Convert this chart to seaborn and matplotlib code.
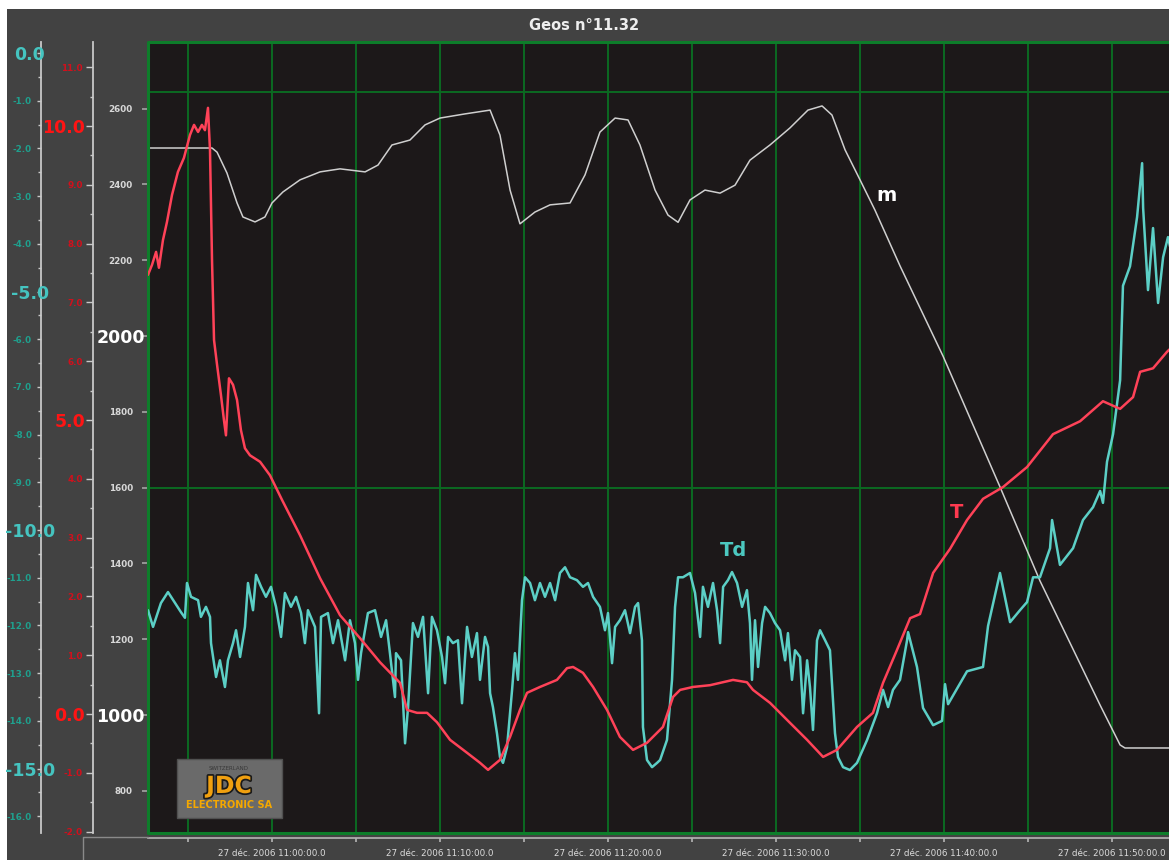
import pandas as pd
import matplotlib
matplotlib.use("Agg")
import matplotlib.pyplot as plt
import matplotlib.dates as mdates
import matplotlib.transforms as mtrans
import matplotlib.patheffects as pe
from matplotlib.patches import Rectangle
from matplotlib.lines import Line2D
from matplotlib.ticker import MultipleLocator, FuncFormatter
import seaborn as sns

# -------------------------------
# Data (minutes after 11:00, 27 Dec 2006)
# -------------------------------
alt_min = [-7.6, -3.57, -3.27, -2.68, -2.08, -1.73, -1.01, -0.42, 0.0, 0.65, 1.67, 2.86, 4.05,
           5.54, 6.31, 7.14, 8.21, 9.11, 10.0, 11.49, 12.98, 13.57, 14.17, 14.76, 15.65,
           16.55, 17.74, 18.63, 19.52, 20.42, 21.19, 21.90, 22.80, 23.57, 24.17, 24.88,
           25.77, 26.67, 27.56, 28.45, 29.64, 30.83, 31.90, 32.74, 33.33, 34.11, 35.0,
           35.89, 37.38, 39.94, 43.33, 45.71, 49.29, 50.48, 50.77, 53.6]
alt_m = [2496, 2496, 2485, 2430, 2351, 2314, 2301, 2314, 2351, 2380, 2412, 2433, 2441,
         2433, 2451, 2504, 2517, 2557, 2575, 2586, 2596, 2530, 2385, 2296, 2327,
         2346, 2351, 2425, 2538, 2575, 2570, 2504, 2385, 2319, 2300, 2359,
         2385, 2377, 2398, 2464, 2504, 2549, 2596, 2607, 2583, 2491, 2412,
         2332, 2185, 1947, 1602, 1354, 1026, 921, 913, 913]

temp_min = [-7.38, -7.14, -6.90, -6.73, -6.49, -6.25, -5.95, -5.60, -5.24, -4.88, -4.64, -4.40,
            -4.17, -3.99, -3.81, -3.69, -3.57, -3.45, -3.27, -3.04, -2.86, -2.74, -2.56, -2.32,
            -2.08, -1.85, -1.61, -1.31, -0.71, -0.12, 0.60, 1.67, 2.86, 4.05, 5.24, 6.43,
            7.62, 8.04, 8.63, 9.23, 9.82, 10.60, 11.61, 12.38, 12.86, 13.57, 14.17, 14.76,
            15.18, 15.95, 16.96, 17.56, 17.92, 18.51, 19.11, 19.94, 20.71, 21.49, 22.32,
            23.27, 23.87, 24.29, 25.06, 26.07, 27.44, 28.27, 28.63, 29.64, 30.83, 31.85,
            32.80, 33.63, 34.82, 35.77, 36.37, 37.20, 37.98, 38.57, 39.35, 40.36, 41.37,
            42.32, 43.51, 44.94, 46.49, 48.10, 49.46, 50.48, 51.25, 51.67, 52.44, 53.27, 53.6]
temp_c = [7.47, 7.64, 7.86, 7.59, 8.06, 8.37, 8.83, 9.22, 9.46, 9.85, 10.02, 9.90,
          10.02, 9.93, 10.31, 9.59, 7.72, 6.36, 5.94, 5.43, 5.00, 4.74, 5.71, 5.60,
          5.34, 4.83, 4.52, 4.40, 4.29, 4.06, 3.64, 3.04, 2.31, 1.68, 1.29, 0.88,
          0.53, 0.07, 0.02, 0.02, -0.14, -0.44, -0.66, -0.83, -0.95, -0.78, -0.39, 0.07,
          0.36, 0.46, 0.58, 0.78, 0.80, 0.70, 0.46, 0.07, -0.39, -0.61, -0.49,
          -0.22, 0.29, 0.41, 0.46, 0.49, 0.58, 0.54, 0.41, 0.19, -0.15, -0.44,
          -0.73, -0.61, -0.22, 0.02, 0.53, 1.09, 1.63, 1.70, 2.40, 2.81, 3.30,
          3.66, 3.86, 4.20, 4.76, 4.98, 5.32, 5.19, 5.39, 5.82, 5.88, 6.16, 6.25]

dew_min = [-7.38, -7.08, -6.61, -6.19, -5.77, -5.42, -5.18, -5.06, -4.82, -4.40, -4.23, -3.93,
           -3.69, -3.63, -3.51, -3.33, -3.10, -2.80, -2.62, -2.32, -2.14, -1.90, -1.61, -1.43,
           -1.13, -0.95, -0.65, -0.36, -0.06, 0.24, 0.54, 0.77, 1.13, 1.43, 1.73, 1.96,
           2.14, 2.56, 2.80, 2.92, 3.33, 3.63, 3.93, 4.35, 4.64, 4.94, 5.12, 5.30,
           5.71, 6.13, 6.49, 6.79, 7.02, 7.32, 7.38, 7.68, 7.92, 8.10, 8.39, 8.69,
           8.99, 9.29, 9.52, 9.82, 10.12, 10.30, 10.48, 10.77, 11.07, 11.31, 11.61, 11.90,
           12.20, 12.38, 12.68, 12.86, 12.98, 13.15, 13.39, 13.57, 13.75, 13.99, 14.29, 14.46,
           14.64, 14.88, 15.06, 15.36, 15.65, 15.95, 16.25, 16.55, 16.85, 17.14, 17.44, 17.74,
           18.15, 18.51, 18.81, 19.11, 19.52, 19.82, 20.0, 20.24, 20.42, 20.71, 21.01, 21.31,
           21.61, 21.79, 22.02, 22.08, 22.32, 22.62, 22.92, 23.10, 23.51, 23.81, 23.99, 24.17,
           24.46, 24.88, 25.18, 25.48, 25.65, 25.95, 26.25, 26.49, 26.67, 26.85, 27.14, 27.38,
           27.68, 27.98, 28.27, 28.45, 28.57, 28.75, 28.93, 29.17, 29.35, 29.64, 29.94, 30.24,
           30.54, 30.71, 30.95, 31.13, 31.43, 31.61, 31.85, 32.02, 32.20, 32.44, 32.62, 32.92,
           33.21, 33.33, 33.51, 33.69, 33.99, 34.40, 34.82, 35.42, 36.01, 36.37, 36.67, 36.96,
           37.38, 37.80, 37.86, 38.39, 38.75, 39.35, 39.88, 40.06, 40.24, 41.37, 42.32, 42.62,
           43.33, 43.93, 44.52, 44.94, 45.30, 45.71, 46.31, 46.43, 46.90, 47.68, 48.27, 48.87,
           49.29, 49.46, 49.70, 50.06, 50.48, 50.65, 51.07, 51.49, 51.79, 51.85, 52.14, 52.44,
           52.74, 53.04, 53.33, 53.6]
dew_c = [-11.68, -12.03, -11.53, -11.30, -11.53, -11.72, -11.84, -11.11, -11.40, -11.47, -11.82, -11.61,
         -11.82, -12.37, -12.66, -13.08, -12.73, -13.29, -12.73, -12.37, -12.10, -12.66, -12.03, -11.11,
         -11.68, -10.94, -11.19, -11.40, -11.19, -11.61, -12.24, -11.32, -11.61, -11.40, -11.74, -12.37,
         -11.68, -12.03, -13.84, -11.82, -11.74, -12.37, -11.89, -12.73, -11.89, -12.37, -13.14, -12.58,
         -11.74, -11.68, -12.24, -11.89, -12.58, -13.50, -12.58, -12.73, -14.47, -13.71, -11.95, -12.24,
         -11.82, -13.42, -11.82, -12.10, -12.66, -13.21, -12.24, -12.37, -12.31, -13.63, -12.03, -12.66,
         -12.16, -13.14, -12.24, -12.45, -13.42, -13.71, -14.26, -14.76, -14.88, -14.55, -13.35, -12.58,
         -13.14, -11.47, -10.99, -11.11, -11.47, -11.11, -11.40, -11.11, -11.47, -10.90, -10.78, -10.99,
         -11.05, -11.19, -11.11, -11.40, -11.61, -12.10, -11.74, -12.79, -12.03, -11.89, -11.68, -12.16,
         -11.61, -11.53, -12.31, -14.13, -14.82, -14.97, -14.88, -14.82, -14.40, -13.14, -11.61, -10.99,
         -10.99, -10.90, -11.32, -12.24, -11.19, -11.61, -11.11, -11.68, -12.37, -11.19, -11.05, -10.88,
         -11.11, -11.61, -11.26, -11.95, -13.14, -11.89, -12.87, -11.95, -11.61, -11.74, -11.95, -12.10,
         -12.73, -12.16, -13.14, -12.52, -12.66, -13.84, -12.73, -13.29, -14.19, -12.31, -12.10, -12.31,
         -12.52, -13.21, -14.26, -14.76, -14.97, -15.03, -14.88, -14.40, -13.84, -13.35, -13.71, -13.35,
         -13.14, -12.31, -12.14, -12.87, -13.73, -14.09, -14.00, -13.23, -13.65, -12.96, -12.87, -12.01,
         -10.90, -11.93, -11.68, -11.51, -10.99, -10.99, -10.38, -9.79, -10.73, -10.38, -9.79, -9.52,
         -9.18, -9.43, -8.57, -7.99, -6.86, -4.88, -4.47, -3.44, -2.31, -3.25, -4.97, -3.67,
         -5.24, -4.28, -3.86, -4.30]

alt_ticks = [800, 1000, 1200, 1400, 1600, 1800, 2000, 2200, 2400, 2600]
alt_big = [1000, 2000]
temp_ticks = list(range(-2, 12))
temp_big = [0, 5, 10]
dew_ticks = list(range(0, -17, -1))
dew_big = [0, -5, -10, -15]
grid_alt = [1600, 2645]

start = pd.Timestamp("2006-12-27 11:00:00")


def to_time(mins):
    return start + pd.to_timedelta(pd.Series(mins, dtype=float), unit="min")


def t_at(m):
    return mdates.date2num(start + pd.Timedelta(minutes=m))


df_alt = pd.DataFrame({"time": to_time(alt_min), "value": alt_m})
df_temp = pd.DataFrame({"time": to_time(temp_min), "value": temp_c})
df_dew = pd.DataFrame({"time": to_time(dew_min), "value": dew_c})

# -------------------------------
# Figure
# -------------------------------
sns.set_theme(style="dark")
plt.rcParams["font.family"] = ["DejaVu Sans"]

BG = "#424242"
PLOT_BG = "#1c1819"
GREEN = "#0b6a22"
AXIS = "#c8c8c8"
RED = "#ff4258"
TEAL = "#5ccfc6"
GRAY_LINE = "#cfcfcf"

fig = plt.figure(figsize=(11.69, 8.60), dpi=100)
fig.patch.set_facecolor("white")
fig.add_artist(Rectangle((7 / 1169, 0), 1, 1 - 9 / 860, transform=fig.transFigure,
                         facecolor=BG, edgecolor="none", zorder=-10))

L, B = 148 / 1169, 1 - 833 / 860
ax_m = fig.add_axes([L, B, 1 - L, (833 - 42) / 860])
ax_td = ax_m.twinx()
ax_t = ax_m.twinx()
ax_m.set_facecolor(PLOT_BG)

sns.lineplot(data=df_alt, x="time", y="value", ax=ax_m, color=GRAY_LINE, lw=1.1, errorbar=None)
sns.lineplot(data=df_dew, x="time", y="value", ax=ax_td, color=TEAL, lw=1.8, errorbar=None)
sns.lineplot(data=df_temp, x="time", y="value", ax=ax_t, color=RED, lw=1.8, errorbar=None)

x0 = start + pd.Timedelta(minutes=-7.38)
x1 = start + pd.Timedelta(minutes=53.39)
ax_m.set_xlim(x0, x1)
ax_m.set_ylim(688.7, 2775.7)
ax_t.set_ylim(-2.024, 11.43)
ax_td.set_ylim(-16.35, 0.23)

for a in (ax_m, ax_t, ax_td):
    a.set_xlabel("")
    a.set_ylabel("")
    for s in a.spines.values():
        s.set_visible(False)

# grid + border
ax_m.xaxis.set_major_locator(mdates.MinuteLocator(byminute=range(0, 60, 5)))
ax_m.xaxis.set_major_formatter(FuncFormatter(
    lambda v, p: ("27 déc. 2006 " + mdates.num2date(v).strftime("%H:%M:%S") + ".0")
    if mdates.num2date(v).minute % 10 == 0 else ""))
ax_m.grid(True, axis="x", color=GREEN, lw=1.4)
ax_m.grid(False, axis="y")
for g in grid_alt:
    ax_m.axhline(g, color=GREEN, lw=1.4, zorder=0.5)
ax_m.plot([1, 0, 0, 1], [0, 0, 1, 1], transform=ax_m.transAxes, color="#0d7d2a",
          lw=2.2, clip_on=False, zorder=5)

ax_m.spines["bottom"].set_visible(True)
ax_m.spines["bottom"].set_position(("outward", 3.6))
ax_m.spines["bottom"].set_color("#b0b0b0")
ax_m.tick_params(axis="x", length=3, color="#b0b0b0", labelsize=6.3,
                 labelcolor="#dcdcdc", pad=5, bottom=True)
ax_t.tick_params(axis="x", bottom=False, labelbottom=False)
ax_td.tick_params(axis="x", bottom=False, labelbottom=False)

# altitude axis (at plot edge)
ax_m.yaxis.set_major_locator(MultipleLocator(200))
ax_m.tick_params(axis="y", left=True, length=4, color="#a0a0a0", labelleft=False)

# temperature and dew point axes on the left
for a, pos, maj in ((ax_t, -0.0539, 5), (ax_td, -0.1048, 3)):
    a.yaxis.tick_left()
    a.spines["left"].set_visible(True)
    a.spines["left"].set_position(("axes", pos))
    a.spines["left"].set_color(AXIS)
    a.spines["left"].set_linewidth(1.3)
    a.yaxis.set_major_locator(MultipleLocator(1))
    a.yaxis.set_minor_locator(MultipleLocator(0.5))
    a.tick_params(axis="y", which="major", length=maj, color=AXIS, width=1,
                  left=True, right=False, labelleft=False, labelright=False)
    a.tick_params(axis="y", which="minor", length=2.5, color=AXIS, width=1,
                  left=True, right=False)


def tick_text(a, xpos, vals, big, fmt, c_small, c_big, ha_big):
    tr = mtrans.blended_transform_factory(a.transAxes, a.transData)
    for v in vals:
        if v in big:
            a.text(xpos[1], v, fmt(v), transform=tr, ha=ha_big, va="center_baseline",
                   fontsize=12.5, fontweight="bold", color=c_big, clip_on=False)
        else:
            a.text(xpos[0], v, fmt(v), transform=tr, ha="right", va="center_baseline",
                   fontsize=6.3, fontweight="bold", color=c_small, clip_on=False)


tick_text(ax_td, (-0.1136, -0.1156), dew_ticks, dew_big, lambda v: f"{v:.1f}",
          "#1fa08e", "#45c4c0", "center")
tick_text(ax_t, (-0.0637, -0.0617), temp_ticks, temp_big, lambda v: f"{v:.1f}",
          "#d0101c", "#ff1414", "right")
tick_text(ax_m, (-0.0147, -0.003), alt_ticks, alt_big, lambda v: f"{v}",
          "#d8d8d8", "#ffffff", "right")

# series labels
ax_m.text(t_at(36.6), 2372, "m", color="white", fontsize=14, fontweight="bold",
          ha="center", va="center")
ax_t.text(t_at(40.77), 3.42, "T", color="#ff3a50", fontsize=14, fontweight="bold",
          ha="center", va="center")
ax_td.text(t_at(27.44), -10.42, "Td", color="#4cc8c0", fontsize=14, fontweight="bold",
           ha="center", va="center")

# title
fig.text(0.5, 1 - 25 / 860, "Geos n°11.32", ha="center", va="center",
         color="#eeeeee", fontsize=10.5, fontweight="bold")

# frame bits under the left scales
fig.add_artist(Line2D([83 / 1169, 83 / 1169, 148 / 1169], [0, 1 - 837 / 860, 1 - 837 / 860],
                      transform=fig.transFigure, color="#8a8a8a", lw=1))

# logo
fig.add_artist(Rectangle((177 / 1169, 1 - 818 / 860), 105 / 1169, 59 / 860,
                         transform=fig.transFigure, facecolor="#6a6a6a",
                         edgecolor="#505050", lw=1, zorder=6))
fig.text(229 / 1169, 1 - 768 / 860, "SWITZERLAND", ha="center", va="center",
         fontsize=4, color="#383838", zorder=7)
fig.text(229 / 1169, 1 - 786 / 860, "JDC", ha="center", va="center", fontsize=17,
         fontweight="bold", color="#f0a010", zorder=7,
         path_effects=[pe.withStroke(linewidth=2.5, foreground="#1a1a1a")])
fig.text(229 / 1169, 1 - 805 / 860, "ELECTRONIC SA", ha="center", va="center",
         fontsize=7, fontweight="bold", color="#f5a800", zorder=7)

fig.savefig("out.png", dpi=100, facecolor=fig.get_facecolor())
